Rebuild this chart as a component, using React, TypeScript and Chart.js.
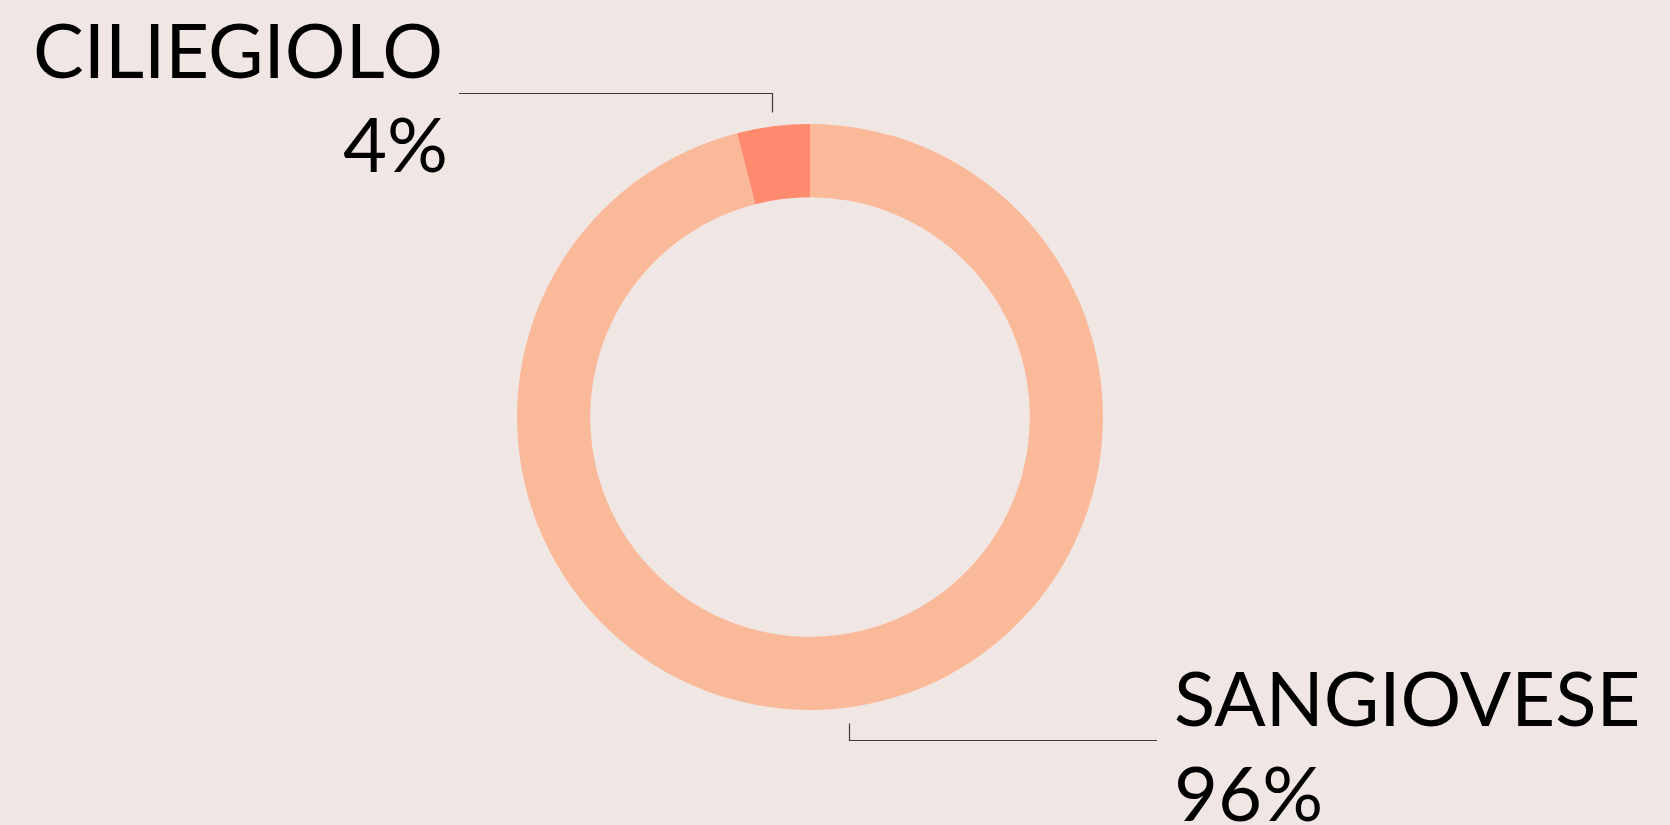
import { useEffect, useRef } from "react";
import { Chart, registerables } from "chart.js";

Chart.register(...registerables);

const categories = ["SANGIOVESE", "CILIEGIOLO"];
const values = [96, 4];
const percentLabels = ["96%", "4%"];
const colors = ["#FABA9A", "#FF8A6E"];

const BG = "#F0E7E5";
const FONT = "400 76px Lato";

type LabelLayout = {
  tickGap: number;
  elbowY: number;
  lineEndX: number;
  nameX: number;
  nameY: number;
  nameAlign: CanvasTextAlign;
  pctX: number;
  pctY: number;
  pctAlign: CanvasTextAlign;
};

const labelLayout: LabelLayout[] = [
  { tickGap: 16, elbowY: 740, lineEndX: 1157, nameX: 1174, nameY: 726, nameAlign: "left", pctX: 1174, pctY: 821, pctAlign: "left" },
  { tickGap: 14, elbowY: 93, lineEndX: 459, nameX: 33, nameY: 78, nameAlign: "left", pctX: 448, pctY: 172, pctAlign: "right" },
];

const leaderPlugin = {
  id: "leaders",
  afterDraw(chart: any) {
    const ctx: CanvasRenderingContext2D = chart.ctx;
    const meta = chart.getDatasetMeta(0);
    meta.data.forEach((arc: any, i: number) => {
      const p = arc.getProps(["x", "y", "startAngle", "endAngle", "outerRadius"], true);
      const mid = (p.startAngle + p.endAngle) / 2;
      const lay = labelLayout[i];
      const r = p.outerRadius + lay.tickGap;
      const tx = p.x + Math.cos(mid) * r;
      const ty = p.y + Math.sin(mid) * r;
      ctx.save();
      ctx.strokeStyle = "#3c3c3c";
      ctx.lineWidth = 1.2;
      ctx.beginPath();
      ctx.moveTo(Math.round(tx) + 0.5, ty);
      ctx.lineTo(Math.round(tx) + 0.5, lay.elbowY + 0.5);
      ctx.lineTo(lay.lineEndX, lay.elbowY + 0.5);
      ctx.stroke();
      ctx.fillStyle = "#000";
      ctx.font = FONT;
      ctx.textBaseline = "alphabetic";
      ctx.textAlign = lay.nameAlign;
      ctx.fillText(String(chart.data.labels[i]), lay.nameX, lay.nameY);
      ctx.textAlign = lay.pctAlign;
      ctx.fillText(percentLabels[i], lay.pctX, lay.pctY);
      ctx.restore();
    });
  },
};

export default function App() {
  const ref = useRef<HTMLCanvasElement | null>(null);
  useEffect(() => {
    if (!ref.current) return;
    const chart = new Chart(ref.current, {
      type: "doughnut",
      data: {
        labels: categories,
        datasets: [
          {
            data: values,
            backgroundColor: colors,
            borderWidth: 0,
            hoverOffset: 0,
          },
        ],
      },
      options: {
        responsive: false,
        animation: false,
        cutout: "75%",
        rotation: 0,
        layout: { padding: { left: 517, right: 567, top: 124, bottom: 115 } },
        plugins: {
          legend: { display: false },
          tooltip: { enabled: false },
        },
      },
      plugins: [leaderPlugin],
    });
    return () => chart.destroy();
  }, []);
  return (
    <div style={{ position: "fixed", left: 0, top: 0, width: 1670, height: 825, background: BG, overflow: "hidden" }}>
      <canvas ref={ref} width={1670} height={825} style={{ display: "block" }} />
    </div>
  );
}
